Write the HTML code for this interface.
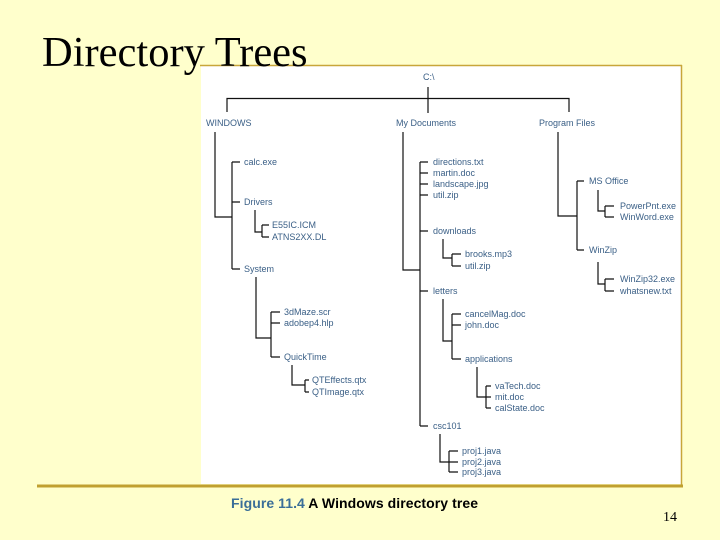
<!DOCTYPE html>
<html><head><meta charset="utf-8"><style>
html,body{margin:0;padding:0;}
body{width:720px;height:540px;background:#ffffcc;position:relative;overflow:hidden;}
</style></head><body>
<svg width="720" height="540" viewBox="0 0 720 540" xmlns="http://www.w3.org/2000/svg" style="position:absolute;left:0;top:0">
<rect x="201" y="65" width="480" height="419" fill="#ffffff"/>
<line x1="200" y1="65.5" x2="682" y2="65.5" stroke="#c8a63a" stroke-width="1.5"/>
<line x1="681.5" y1="65" x2="681.5" y2="485" stroke="#c8a63a" stroke-width="1.5"/>
<line x1="37" y1="486" x2="683" y2="486" stroke="#c0a030" stroke-width="3"/>
<text x="42" y="66" font-family="Liberation Serif, serif" font-size="42.5" fill="#000">Directory Trees</text>
<g stroke="#111" stroke-width="1.2" fill="none">
<path d="M428 87V113M227 112V98.5H569V112"/>
<path d="M215 132V217H232M232 162V269M232 162H240M232 202H240M232 269H240"/>
<path d="M255 210V232H262M262 225V237M262 225H269M262 237H269"/>
<path d="M256 277V338H271M271 312V357M271 312H280M271 323H280M271 357H280"/>
<path d="M292 365V385H305M305 380V392M305 380H309M305 392H309"/>
<path d="M403 132V270H420M420 162V426M420 162H428M420 173H428M420 184H428M420 195H428M420 231H428M420 291H428M420 426H428"/>
<path d="M443 239V258H452M452 254V266M452 254H461M452 266H461"/>
<path d="M443 299V341H452M452 314V359M452 314H461M452 325H461M452 359H461"/>
<path d="M477 367V397H486M486 386V408M486 386H491M486 397H491M486 408H491"/>
<path d="M440 434V462H449M449 451V472M449 451H458M449 462H458M449 472H458"/>
<path d="M558 132V216H577M577 181V250M577 181H584M577 250H584"/>
<path d="M598 190V211H605M605 206V217M605 206H614M605 217H614"/>
<path d="M598 262V284H605M605 279V291M605 279H614M605 291H614"/>
</g>
<g font-family="Liberation Sans, sans-serif" font-size="9" fill="#3a5f86" dominant-baseline="central">
<text x="423" y="77">C:\</text>
<text x="206" y="123">WINDOWS</text>
<text x="396" y="123">My Documents</text>
<text x="539" y="123">Program Files</text>
<text x="244" y="162">calc.exe</text>
<text x="244" y="202">Drivers</text>
<text x="272" y="225">E55IC.ICM</text>
<text x="272" y="237">ATNS2XX.DL</text>
<text x="244" y="269">System</text>
<text x="284" y="312">3dMaze.scr</text>
<text x="284" y="323">adobep4.hlp</text>
<text x="284" y="357">QuickTime</text>
<text x="312" y="380">QTEffects.qtx</text>
<text x="312" y="392">QTImage.qtx</text>
<text x="433" y="162">directions.txt</text>
<text x="433" y="173">martin.doc</text>
<text x="433" y="184">landscape.jpg</text>
<text x="433" y="195">util.zip</text>
<text x="433" y="231">downloads</text>
<text x="465" y="254">brooks.mp3</text>
<text x="465" y="266">util.zip</text>
<text x="433" y="291">letters</text>
<text x="465" y="314">cancelMag.doc</text>
<text x="465" y="325">john.doc</text>
<text x="465" y="359">applications</text>
<text x="495" y="386">vaTech.doc</text>
<text x="495" y="397">mit.doc</text>
<text x="495" y="408">calState.doc</text>
<text x="433" y="426">csc101</text>
<text x="462" y="451">proj1.java</text>
<text x="462" y="462">proj2.java</text>
<text x="462" y="472">proj3.java</text>
<text x="589" y="181">MS Office</text>
<text x="620" y="206">PowerPnt.exe</text>
<text x="620" y="217">WinWord.exe</text>
<text x="589" y="250">WinZip</text>
<text x="620" y="279">WinZip32.exe</text>
<text x="620" y="291">whatsnew.txt</text>
</g>
<text x="231" y="508" font-family="Liberation Sans, sans-serif" font-size="14" font-weight="bold" textLength="247"><tspan fill="#3a6e98">Figure 11.4</tspan><tspan fill="#000"> A Windows directory tree</tspan></text>
<text x="663" y="521" font-family="Liberation Serif, serif" font-size="14" fill="#000">14</text>
</svg>
</body></html>
